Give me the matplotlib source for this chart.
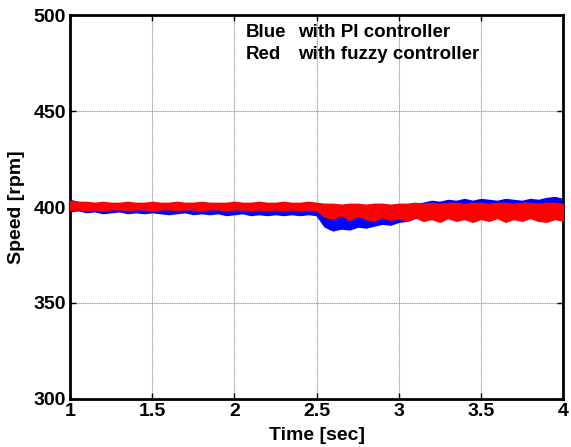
import matplotlib
matplotlib.use("Agg")
import matplotlib.pyplot as plt

# time points (sec) and envelope values (rpm)
t = [1.00, 1.05, 1.10, 1.15, 1.20, 1.25, 1.30, 1.35, 1.40, 1.45, 1.50, 1.55, 1.60, 1.65, 1.70, 1.75,
     1.80, 1.85, 1.90, 1.95, 2.00, 2.05, 2.10, 2.15, 2.20, 2.25, 2.30, 2.35, 2.40, 2.45, 2.50,
     2.55, 2.60, 2.65, 2.70, 2.75, 2.80, 2.85, 2.90, 2.95, 3.00, 3.05, 3.10, 3.15, 3.20, 3.25,
     3.30, 3.35, 3.40, 3.45, 3.50, 3.55, 3.60, 3.65, 3.70, 3.75, 3.80, 3.85, 3.90, 3.95, 4.00]
blue_hi = [403.5, 402.5, 402, 401.5, 402, 401.5, 401, 401.5, 401, 401.5, 401, 401, 401.5, 401, 400.5, 401,
           401, 400.5, 401, 400.5, 400.5, 401, 400.5, 400.5, 400, 400.5, 400.5, 400, 400.5, 400, 400.5,
           397, 396, 396.5, 396, 397, 396.5, 397.5, 398, 398.5, 399.5, 400.5, 401.5, 402, 403, 402.5,
           403.5, 403, 404, 403, 404, 403.5, 403, 404, 403.5, 403, 404, 403.5, 404.5, 405, 404]
blue_lo = [398, 398.5, 397.5, 398, 397, 397.5, 398, 397, 397.5, 397, 397.5, 397, 396.5, 397, 397.5, 396.5,
           397, 396.5, 397, 396, 396.5, 397, 396, 396.5, 396, 396.5, 396, 396.5, 396, 396.5, 396,
           390, 388, 389, 388.5, 390, 389.5, 390.5, 391.5, 391, 392.5, 393, 394.5, 395, 395.5, 396,
           396.5, 397, 397, 396.5, 397.5, 397, 397.5, 398, 397.5, 398, 397.5, 398, 398, 397.5, 398]
red_hi = [403, 402.5, 402.5, 402, 402.5, 402, 402, 402.5, 402, 402, 402.5, 402, 402, 402.5, 402, 402,
          402.5, 402, 402, 402, 402.5, 402, 402, 402.5, 402, 402, 402.5, 402, 402, 402.5, 402,
          401.5, 401.5, 401, 401.5, 401.5, 401, 401.5, 401.5, 401, 401.5, 401.5, 402, 401.5, 402, 401.5,
          402, 402, 401.5, 402, 402, 401.5, 402, 402, 401.5, 402, 402, 401.5, 402, 402, 401.5]
red_lo = [398.5, 399, 398.5, 399, 398.5, 399, 399, 398.5, 399, 399, 398.5, 399, 399, 398.5, 399, 399,
          398.5, 399, 399, 398.5, 399, 399, 398.5, 399, 398.5, 399, 398.5, 399, 398.5, 399, 398.5,
          395, 394, 396, 393.5, 395.5, 394, 393, 395, 393.5, 394.5, 393, 395, 393, 394, 392.5,
          394.5, 393, 394, 392.5, 394, 393, 394.5, 392.5, 394, 393, 394.5, 393, 392.5, 394, 393]

x_ticks = [1, 1.5, 2, 2.5, 3, 3.5, 4]
x_tick_labels = ["1", "1.5", "2", "2.5", "3", "3.5", "4"]
y_ticks = [300, 350, 400, 450, 500]
y_tick_labels = ["300", "350", "400", "450", "500"]

plt.rcParams['font.family'] = ['Liberation Sans', 'DejaVu Sans']
plt.rcParams['font.weight'] = 'bold'

FS = 14
FS_TXT = 13.5

fig = plt.figure(figsize=(5.71, 4.47), dpi=100)
ax = fig.add_axes([0.1226, 0.1074, 0.8634, 0.859])

ax.fill_between(t, blue_lo, blue_hi, color='#0000ff', linewidth=1.5, edgecolor='#0000ff', zorder=2)
ax.fill_between(t, red_lo, red_hi, color='#ff0000', linewidth=1.5, edgecolor='#ff0000', zorder=3)

ax.set_xlim(1, 4)
ax.set_ylim(300, 500)
ax.set_xticks(x_ticks)
ax.set_xticklabels(x_tick_labels, fontsize=FS, fontweight='bold')
ax.set_yticks(y_ticks)
ax.set_yticklabels(y_tick_labels, fontsize=FS, fontweight='bold')
ax.tick_params(direction='in', length=4, width=1, top=True, right=True)
ax.tick_params(axis='x', pad=3)
ax.tick_params(axis='y', pad=3)
ax.grid(True, color='#9a9a9a', linewidth=0.8, linestyle=(0, (1, 0.6)))
for s in ax.spines.values():
    s.set_linewidth(2)

ax.set_xlabel("Time [sec]", fontsize=FS, fontweight='bold')
ax.set_ylabel("Speed [rpm]", fontsize=FS, fontweight='bold')
ax.xaxis.set_label_coords(0.5, -0.074)
ax.yaxis.set_label_coords(-0.092, 0.5)

ax.text(2.071, 488.5, "Blue", fontsize=FS_TXT, fontweight='bold', va='baseline')
ax.text(2.387, 488.5, "with PI controller", fontsize=FS_TXT, fontweight='bold', va='baseline')
ax.text(2.071, 477, "Red", fontsize=FS_TXT, fontweight='bold', va='baseline')
ax.text(2.387, 477, "with fuzzy controller", fontsize=FS_TXT, fontweight='bold', va='baseline')

fig.savefig("out.png", dpi=100)
